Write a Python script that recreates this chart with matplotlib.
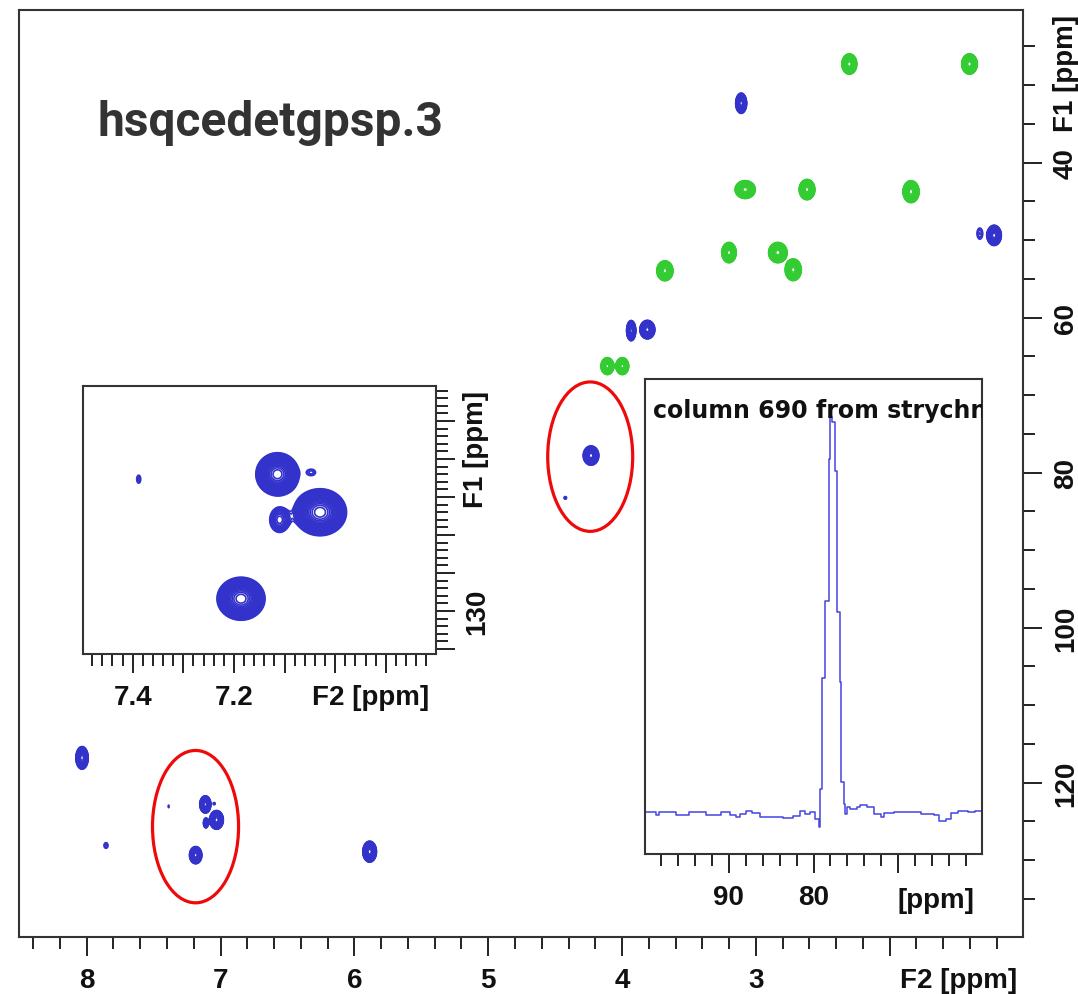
import numpy as np
import matplotlib
matplotlib.use("Agg")
import matplotlib.pyplot as plt
from matplotlib.patches import Ellipse
from matplotlib.ticker import MultipleLocator

plt.rcParams["font.family"] = ["Liberation Sans", "DejaVu Sans"]
plt.rcParams["font.weight"] = "bold"

# Cross peaks of the multiplicity-edited HSQC of strychnine.
# F2 = 1H shift, F1 = 13C shift, amplitude sign = phase (CH/CH3 > 0, CH2 < 0),
# w2 / w1 = Gaussian line widths (sigma) in ppm.
peak_f2 = np.array([2.302, 1.404, 3.080, 2.618, 1.841, 3.201, 2.836, 2.721, 3.680, 4.110, 3.998,
                    3.110, 1.220, 1.327, 3.932, 3.811, 4.232, 4.424, 8.035, 7.856, 5.886,
                    7.114, 7.030, 7.186, 7.110, 7.047, 7.388])
peak_f1 = np.array([27.27, 27.27, 43.47, 43.47, 43.74, 51.60, 51.60, 53.82, 53.95, 66.25, 66.25,
                    32.33, 49.38, 49.15, 61.67, 61.54, 77.79, 83.25, 116.8, 128.1, 128.9,
                    122.8, 124.8, 129.35, 125.2, 122.7, 123.06])
peak_amp = np.array([-12, -12, -12, -12, -12, -12, -12, -12, -12, -12, -12,
                     12, 12, 1.6, 12, 12, 12, 1.3, 12, 1.3, 12,
                     12, 12, 12, 3.0, 1.3, 1.3])
peak_w2 = np.array([0.0258, 0.0268, 0.0345, 0.0270, 0.0277, 0.0248, 0.0317, 0.0277, 0.0277, 0.0220, 0.0220,
                    0.0190, 0.0248, 0.0230, 0.0160, 0.0258, 0.0268, 0.0155, 0.0213, 0.0230, 0.0236,
                    0.0192, 0.0235, 0.0213, 0.0130, 0.0110, 0.0055])
peak_w1 = np.array([0.598, 0.598, 0.528, 0.598, 0.647, 0.598, 0.598, 0.638, 0.587, 0.500, 0.500,
                    0.598, 0.598, 0.770, 0.598, 0.548, 0.568, 0.270, 0.667, 0.540, 0.620,
                    0.508, 0.555, 0.508, 0.445, 0.220, 0.290])

# 13C trace (column 690): step edges in ppm and the level held after each edge
col_ppm = np.array([100.0, 98.61, 98.22, 96.24, 94.65, 92.67, 90.89, 89.90, 89.11, 88.71, 87.92,
                    87.32, 86.33, 83.56, 82.37, 81.58, 80.99, 80.39, 79.80, 79.40, 79.20, 79.00,
                    78.61, 78.21, 78.02, 77.82, 77.50, 77.22, 76.91, 76.71, 76.43, 76.23, 76.03,
                    75.64, 74.85, 74.45, 73.66, 72.87, 72.07, 71.68, 70.49, 67.32, 65.74, 65.14,
                    64.35, 63.76, 62.96, 61.77, 60.98, 60.19, 60.0])
col_int = np.array([0.0, -0.6, 0.0, -0.6, 0.0, -0.6, 0.0, -0.6, -1.1, -0.4, 0.4,
                    -0.25, -1.1, -1.5, -0.85, 0.4, -0.4, 0.0, -1.7, -3.8, 5.9, 33.9,
                    53.4, 89.4, 100.0, 98.7, 86.4, 50.8, 33.1, 7.6, 2.1, -0.4, 1.3,
                    0.85, 1.44, 1.95, 1.3, -0.4, -1.1, -0.25, 0.0, -0.4, -0.6, -2.1,
                    -1.7, -0.25, 0.4, 0.0, 0.4, 0.4, 0.4])

main_xticks = [8, 7, 6, 5, 4, 3, 2]
main_xlabels = ["8", "7", "6", "5", "4", "3", ""]
main_yticks = [40, 60, 80, 100, 120]
main_ylabels = ["40", "60", "80", "100", "120"]
zoom_xticks = [7.4, 7.3, 7.2, 7.1, 7.0, 6.9]
zoom_xlabels = ["7.4", "", "7.2", "", "", ""]
zoom_yticks = [120, 122, 124, 126, 128, 130, 132]
zoom_ylabels = ["", "", "", "", "", "130", ""]
col_xticks = [90, 80, 70]
col_xlabels = ["90", "80", ""]

BLUE = "#3333cc"
GREEN = "#33cc33"
FRAME = "#333333"
LEVELS = 1.12 ** np.arange(34)

W, H = 1078, 995
fig = plt.figure(figsize=(W / 100, H / 100), dpi=100)


def px_axes(left, top, right, bottom):
    return fig.add_axes([left / W, 1 - bottom / H, (right - left) / W, (bottom - top) / H])


def plane(x, y, sign):
    sel = np.sign(peak_amp) == sign
    gx = np.exp(-0.5 * ((x[None, :] - peak_f2[sel, None]) / peak_w2[sel, None]) ** 2)
    gy = np.exp(-0.5 * ((y[None, :] - peak_f1[sel, None]) / peak_w1[sel, None]) ** 2)
    return (gy.T * np.abs(peak_amp[sel])[None, :]) @ gx


def style(ax, ypad=None):
    for sp in ax.spines.values():
        sp.set_linewidth(1.5)
        sp.set_color(FRAME)
    ax.tick_params(which="both", direction="out", width=1.4, color="#222222",
                   labelsize=20, labelcolor="#111111")
    ax.tick_params(which="major", length=14)
    ax.tick_params(which="minor", length=8.3)
    ax.tick_params(axis="x", which="both", top=False, bottom=True, pad=7.3)
    if ypad is None:
        ax.tick_params(axis="y", which="both", left=False, right=False,
                       labelleft=False, labelright=False)
    else:
        ax.yaxis.tick_right()
        ax.tick_params(axis="y", which="both", left=False, right=True,
                       labelleft=False, labelright=True, pad=ypad, labelrotation=90)
        for t in ax.yaxis.get_major_ticks():
            t.label2.set_rotation_mode("anchor")
            t.label2.set_horizontalalignment("center")
            t.label2.set_verticalalignment("baseline")


def xlabel(ax, text, x, y):
    ax.set_xlabel(text, fontsize=20, fontweight="bold", color="#111111")
    ax.xaxis.set_label_coords(x, y)
    ax.xaxis.label.set_horizontalalignment("right")
    ax.xaxis.label.set_verticalalignment("baseline")


def ylabel(ax, text, x, y):
    ax.yaxis.set_label_position("right")
    ax.set_ylabel(text, fontsize=20, fontweight="bold", color="#111111")
    lab = ax.yaxis.label
    lab.set_rotation(90)
    lab.set_rotation_mode("anchor")
    lab.set_horizontalalignment("right")
    lab.set_verticalalignment("baseline")
    ax.yaxis.set_label_coords(x, y)


# ---------------- main 2D spectrum ----------------
ax = px_axes(19, 11, 1023.3, 938.3)
gx = np.arange(0.95, 8.55, 0.004)
gy = np.arange(19.0, 141.0, 0.08)
ax.contour(gx, gy, plane(gx, gy, 1), levels=LEVELS, colors=BLUE, linewidths=0.9)
ax.contour(gx, gy, plane(gx, gy, -1), levels=LEVELS, colors=GREEN, linewidths=0.9)
ax.set_xlim(8.506, 1.002)
ax.set_ylim(139.95, 20.3)
ax.set_xticks(main_xticks, main_xlabels)
ax.xaxis.set_minor_locator(MultipleLocator(0.2))
ax.set_yticks(main_yticks, main_ylabels)
ax.yaxis.set_minor_locator(MultipleLocator(5))
style(ax, ypad=21.8)
xlabel(ax, "F2 [ppm]", 0.9934, -0.0539)
ylabel(ax, "F1 [ppm]", 1.0495, 0.9952)

# highlighted cross peaks
for cx, cy, ew, eh in [(4.238, 77.93, 0.635, 19.28), (7.187, 125.67, 0.643, 19.66)]:
    ax.add_patch(Ellipse((cx, cy), ew, eh, fill=False, ec="#ee0a0a", lw=2.3, zorder=5))

fig.text(98 / W, 1 - 136 / H, "hsqcedetgpsp.3", fontfamily="Roboto", fontweight="bold",
         fontsize=34.5, color="#333333", ha="left", va="baseline")

# ---------------- aromatic region enlarged ----------------
az = px_axes(83, 386.7, 436, 655)
zx = np.arange(6.78, 7.52, 0.001)
zy = np.arange(117.5, 133.0, 0.03)
az.contour(zx, zy, plane(zx, zy, 1), levels=LEVELS, colors=BLUE, linewidths=1.2)
az.set_xlim(7.498, 6.801)
az.set_ylim(132.26, 118.14)
az.set_xticks(zoom_xticks, zoom_xlabels)
az.xaxis.set_minor_locator(MultipleLocator(0.02))
az.set_yticks(zoom_yticks, zoom_ylabels)
az.yaxis.set_minor_locator(MultipleLocator(0.4))
style(az, ypad=20.5)
xlabel(az, "F2 [ppm]", 0.981, -0.1866)
ylabel(az, "F1 [ppm]", 1.1331, 0.9832)

# ---------------- 13C column trace ----------------
ac = px_axes(645, 380, 982, 855)
ac.step(col_ppm, col_int, where="post", color="#4444e0", lw=1.1)
ac.set_xlim(99.9, 60.1)
ac.set_ylim(-10.55, 109.7)
ac.set_xticks(col_xticks, col_xlabels)
ac.xaxis.set_minor_locator(MultipleLocator(2))
style(ac)
xlabel(ac, "[ppm]", 0.9763, -0.111)
t = ac.text(0.0246, 0.9206, "column 690 from strychnine", transform=ac.transAxes,
            fontfamily="DejaVu Sans", fontweight="bold", fontsize=17, color="#111111",
            ha="left", va="baseline", clip_on=True)
t.set_clip_path(ac.patch)

fig.savefig("out.png", dpi=100)
